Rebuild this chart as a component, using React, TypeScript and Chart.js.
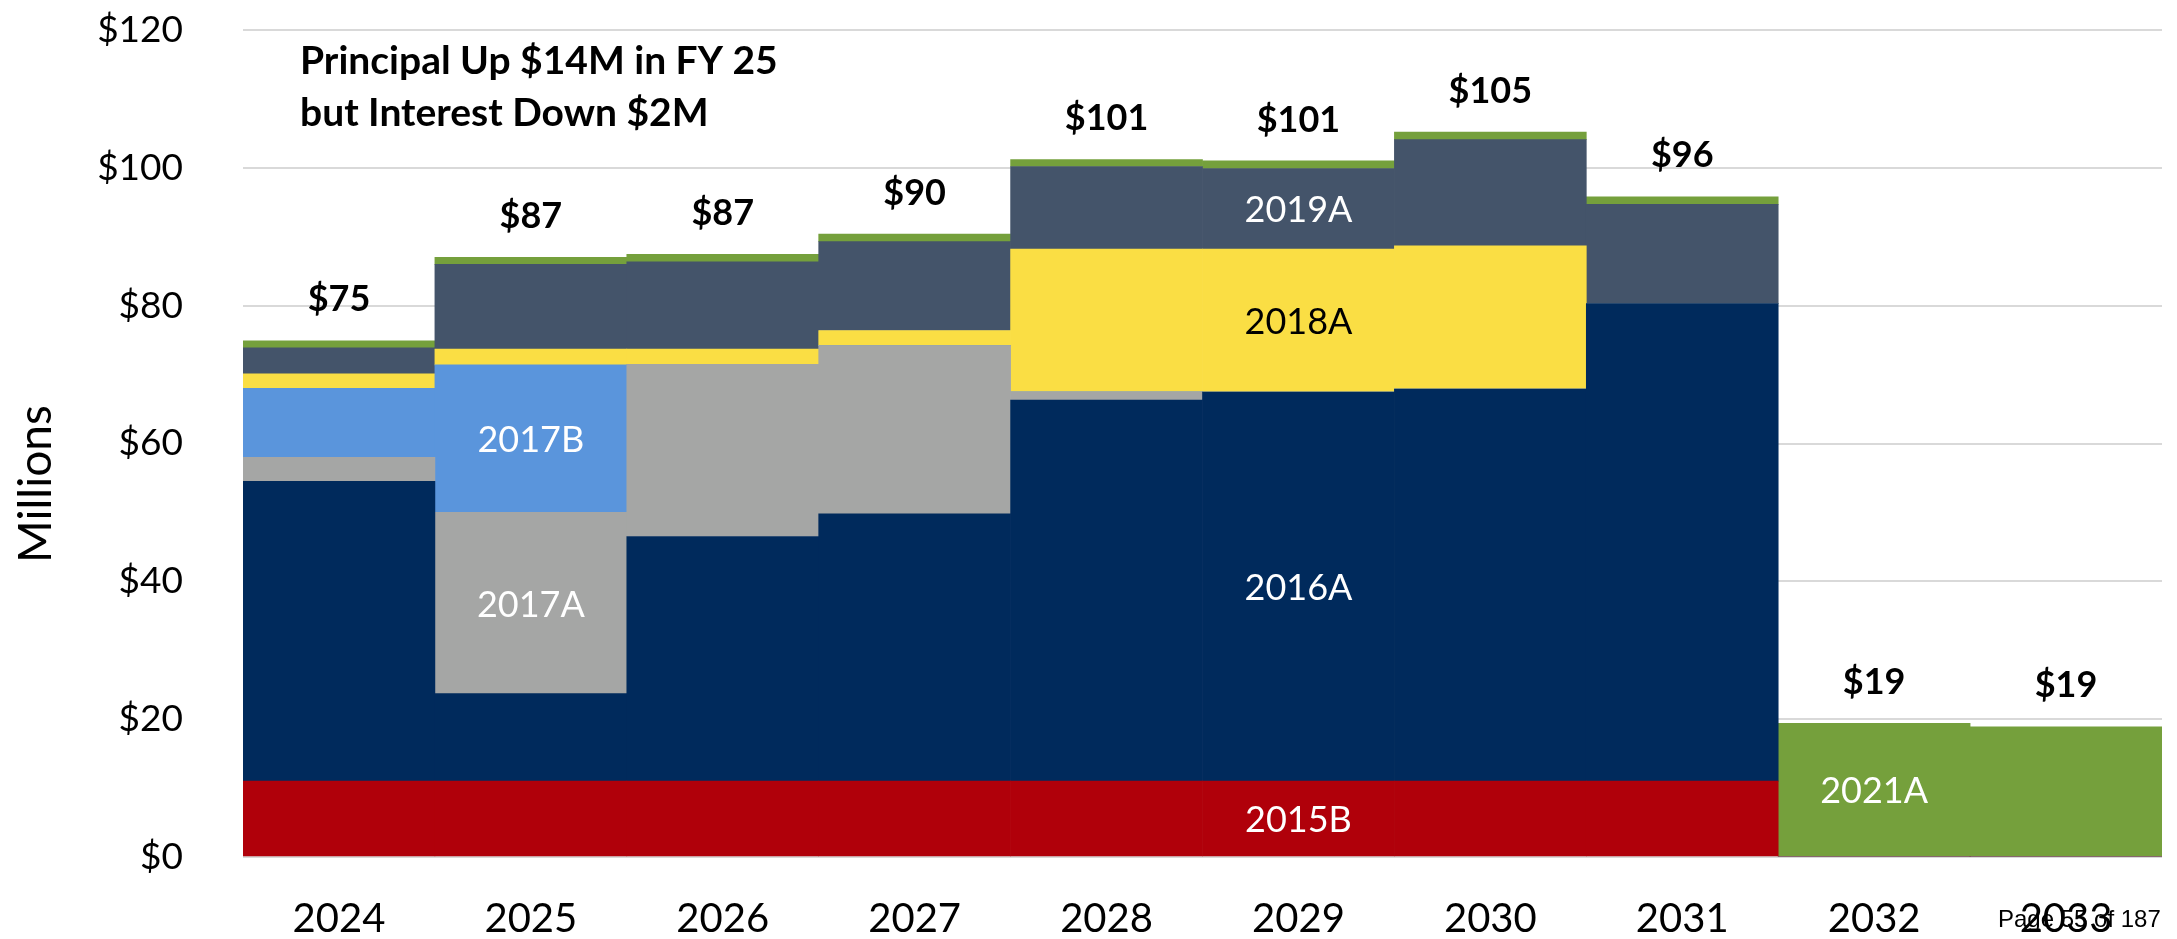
import React, { useEffect, useRef } from 'react';
import { Chart, registerables } from 'chart.js';

Chart.register(...registerables);

const W = 2177;
const H = 939;

// ---- data (millions of dollars) ----
const categories = ['2024', '2025', '2026', '2027', '2028', '2029', '2030', '2031', '2032', '2033'];

const s2015B = [11.0, 11.0, 11.0, 11.0, 11.0, 11.0, 11.0, 11.0, 0, 0];
const s2016A = [43.5, 12.7, 35.5, 38.8, 55.3, 56.45, 56.9, 69.3, 0, 0];
const s2017A = [3.5, 26.3, 25.0, 24.4, 1.2, 0, 0, 0, 0, 0];
const s2017B = [10.0, 21.4, 0, 0, 0, 0, 0, 0, 0, 0];
const s2018A = [2.1, 2.3, 2.2, 2.2, 20.7, 20.75, 20.8, 0, 0, 0];
const s2019A = [3.8, 12.3, 12.65, 12.9, 12.0, 11.7, 15.4, 14.4, 0, 0];
const s2021A = [1.0, 1.0, 1.1, 1.1, 1.0, 1.1, 1.1, 1.1, 19.4, 18.9];

const seriesNames = ['2015B', '2016A', '2017A', '2017B', '2018A', '2019A', '2021A'];
const seriesValues = [s2015B, s2016A, s2017A, s2017B, s2018A, s2019A, s2021A];
const seriesColors = ['#B0000A', '#002A5C', '#A5A6A5', '#5A95DC', '#FADE44', '#44546A', '#75A03C'];

const yTickValues = [0, 20, 40, 60, 80, 100, 120];

// in-bar labels: series name shown inside the bar of the given year
const segmentLabelSeries = ['2017B', '2017A', '2016A', '2015B', '2019A', '2018A', '2021A'];
const segmentLabelYears = ['2025', '2025', '2029', '2029', '2029', '2029', '2032'];
const segmentLabelColors = ['#FFFFFF', '#FFFFFF', '#FFFFFF', '#FFFFFF', '#FFFFFF', '#000000', '#FFFFFF'];

const noteLines = ['Principal Up $14M in FY 25', 'but Interest Down $2M'];
const yTitle = 'Millions';
const pageText = 'Page 55 of 187';

const overlayPlugin = {
  id: 'overlayText',
  afterDatasetsDraw(chart: any) {
    const ctx = chart.ctx;
    const yScale = chart.scales.y;
    ctx.save();

    // segment labels
    ctx.font = '36px Lato';
    ctx.textAlign = 'center';
    ctx.textBaseline = 'middle';
    segmentLabelSeries.forEach((name, k) => {
      const di = seriesNames.indexOf(name);
      const ci = categories.indexOf(segmentLabelYears[k]);
      const el = chart.getDatasetMeta(di).data[ci];
      ctx.fillStyle = segmentLabelColors[k];
      ctx.fillText(name, el.x, (el.y + el.base) / 2 + 2);
    });

    // totals
    ctx.font = 'bold 36px Lato';
    ctx.fillStyle = '#000000';
    categories.forEach((c, i) => {
      const total = seriesValues.reduce((s, arr) => s + arr[i], 0);
      const x = chart.getDatasetMeta(0).data[i].x;
      ctx.fillText('$' + Math.round(total), x, yScale.getPixelForValue(total) - 41);
    });

    // note
    ctx.font = 'bold 39px Lato';
    ctx.textAlign = 'left';
    ctx.textBaseline = 'alphabetic';
    ctx.fillText(noteLines[0], 300, 74);
    ctx.fillText(noteLines[1], 300, 126);

    // y title
    ctx.save();
    ctx.translate(36, 484);
    ctx.rotate(-Math.PI / 2);
    ctx.font = '46px Lato';
    ctx.textAlign = 'center';
    ctx.textBaseline = 'middle';
    ctx.fillText(yTitle, 0, 0);
    ctx.restore();

    ctx.restore();
  },
  afterDraw(chart: any) {
    const ctx = chart.ctx;
    ctx.save();
    ctx.font = '24px "Liberation Sans"';
    ctx.fillStyle = '#000000';
    ctx.textAlign = 'left';
    ctx.textBaseline = 'alphabetic';
    ctx.fillText(pageText, 1998, 927);
    ctx.restore();
  },
};

export default function App() {
  const canvasRef = useRef<HTMLCanvasElement | null>(null);

  useEffect(() => {
    if (!canvasRef.current) return;
    const chart = new Chart(canvasRef.current, {
      type: 'bar',
      data: {
        labels: categories,
        datasets: seriesNames.map((name, i) => ({
          label: name,
          data: seriesValues[i],
          backgroundColor: seriesColors[i],
          borderWidth: 0,
          barPercentage: 1,
          categoryPercentage: 1,
        })),
      },
      options: {
        animation: false,
        responsive: false,
        devicePixelRatio: 1,
        layout: { padding: { top: 30, right: 15, left: 0, bottom: 0 } },
        plugins: {
          legend: { display: false },
          tooltip: { enabled: false },
          title: { display: false },
        },
        scales: {
          x: {
            stacked: true,
            grid: { display: false, drawTicks: false },
            border: { display: false },
            ticks: {
              color: '#000000',
              font: { family: 'Lato', size: 40 },
              padding: 38,
              maxRotation: 0,
              autoSkip: false,
            },
            afterFit: (scale: any) => {
              scale.height = 82;
              scale.paddingLeft = 0;
              scale.paddingRight = 0;
            },
          },
          y: {
            stacked: true,
            min: 0,
            max: 120,
            afterBuildTicks: (scale: any) => {
              scale.ticks = yTickValues.map((v) => ({ value: v }));
            },
            grid: { color: '#D9D9D9', lineWidth: 2, drawTicks: false },
            border: { display: false },
            ticks: {
              color: '#000000',
              font: { family: 'Lato', size: 37 },
              padding: 60,
              callback: (v: any) => '$' + v,
            },
            afterFit: (scale: any) => {
              scale.width = 243;
              scale.paddingTop = 0;
              scale.paddingBottom = 0;
            },
          },
        },
      },
      plugins: [overlayPlugin],
    });
    return () => chart.destroy();
  }, []);

  return (
    <div style={{ position: 'absolute', left: 0, top: 0, width: W, height: H, background: '#FFFFFF' }}>
      <canvas ref={canvasRef} width={W} height={H} style={{ display: 'block', width: W, height: H }} />
    </div>
  );
}
